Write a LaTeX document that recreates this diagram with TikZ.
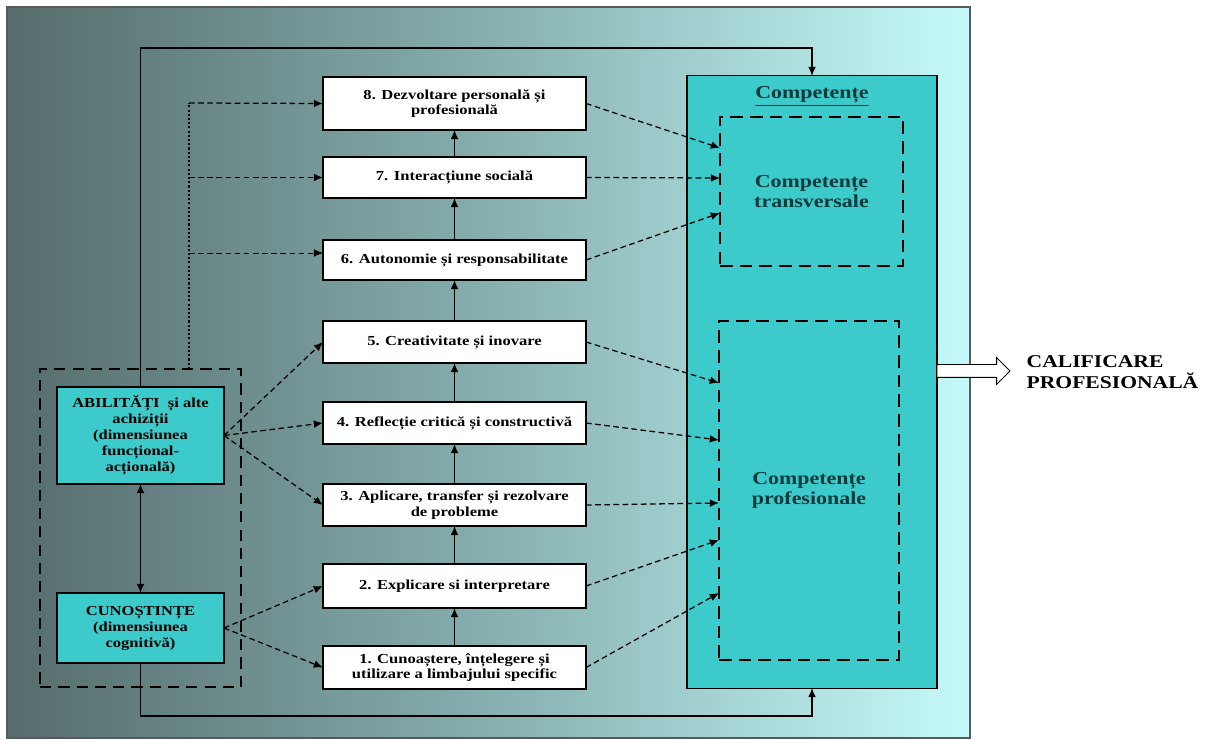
\documentclass[tikz,border=0pt]{standalone}
\usepackage{fontspec}
\setmainfont[FakeStretch=1.2]{Liberation Serif}
\usetikzlibrary{shapes.arrows,arrows.meta}
\definecolor{bgdark}{HTML}{566C6C}
\definecolor{bgmid}{HTML}{86AFAF}
\definecolor{bglight}{HTML}{C6FAFA}
\definecolor{turq}{HTML}{3CCACA}
\definecolor{inktxt}{HTML}{0E3A3C}
\begin{document}
\begin{tikzpicture}[x=0.025cm, y=-0.025cm, line width=0.8pt, >={Latex[length=6.5pt,width=5.5pt]},
    every node/.style={font=\bfseries, align=center, outer sep=0pt},
    stepbox/.style={draw, fill=white, minimum width=6.575cm, minimum height=1.05cm, inner sep=2pt, font=\bfseries\fontsize{9.8}{11}\selectfont},
    dimbox/.style={draw, fill=turq, minimum width=4.175cm, inner sep=2pt, font=\bfseries\fontsize{9.8}{11.4}\selectfont},
    groupbox/.style={draw, line width=1.2pt, dash pattern=on 8pt off 5pt},
    compbox/.style={draw, line width=1.2pt, dash pattern=on 9pt off 5pt, text=inktxt, font=\bfseries\fontsize{13}{14.5}\selectfont},
    dashline/.style={line width=0.9pt, dash pattern=on 4pt off 2.5pt},
    dotline/.style={line width=0.9pt, dash pattern=on 1.5pt off 1.5pt},
    hollow/.style={single arrow, draw, fill=white, line width=0.6pt, inner xsep=0pt, inner ysep=0.15cm, minimum width=0.65cm, single arrow head extend=0.175cm, minimum height=1.825cm}]
    \useasboundingbox (0,0) rectangle (1215,740);
    % background
    \draw[draw=gray!70!black, left color=bgdark, right color=bglight, middle color=bgmid] (7,7) rectangle (970,738);

    % competente
    \node[draw, fill=turq, minimum width=6.25cm, minimum height=15.3cm] (comp) at (812,382) {};
    \node[text=inktxt, font=\bfseries\fontsize{13}{14.5}\selectfont] (comptitle) at (812,96) {\underline{Competențe}};
    \node[compbox, minimum width=4.575cm, minimum height=3.725cm] (trans) at (811.5,191.5) {Competențe\\transversale};
    \node[compbox, minimum width=4.5cm, minimum height=8.475cm] (prof) at (809,490.5) {Competențe\\profesionale};

    % left group
    \node[groupbox, minimum width=5.025cm, minimum height=7.95cm] (grp) at (140.5,528) {};
    \node[dimbox, minimum height=2.425cm] (abil) at (140.5,435.5) {ABILITĂȚI~ și alte\\achiziții\\(dimensiunea\\funcțional-\\acțională)};
    \node[dimbox, minimum height=1.75cm] (cun) at (140.5,628) {CUNOȘTINȚE\\(dimensiunea\\cognitivă)};

    % steps
    \node[stepbox, minimum height=1.325cm] (b8) at (454.5,103.5) {8. Dezvoltare personală și\\profesională};
    \node[stepbox, minimum height=1.025cm] (b7) at (454.5,177.5) {7. Interacțiune socială};
    \node[stepbox, minimum height=1cm] (b6) at (454.5,260) {6. Autonomie și responsabilitate};
    \node[stepbox] (b5) at (454.5,342) {5. Creativitate și inovare};
    \node[stepbox] (b4) at (454.5,423) {4. Reflecție critică și constructivă};
    \node[stepbox] (b3) at (454.5,505) {3. Aplicare, transfer și rezolvare\\de probleme};
    \node[stepbox, minimum height=1.1cm] (b2) at (454.5,586) {2. Explicare si interpretare};
    \node[stepbox, minimum height=1.075cm] (b1) at (454.5,667.5) {1. Cunoaștere, înțelegere și\\utilizare a limbajului specific};

    \node[hollow, anchor=tail] (qarrow) at (comp.east |- 0,371) {};
    \node[anchor=west, align=left, font=\bfseries\fontsize{12.8}{14.5}\selectfont] (calif) at (1022,372) {CALIFICARE\\PROFESIONALĂ};

    % solid links
    \foreach \a/\b in {b1/b2, b2/b3, b3/b4, b4/b5, b5/b6, b6/b7, b7/b8}
        \draw[->] (\a) -- (\b);
    \draw[<->] (abil.south) -- (cun.north);
    \draw[->] (abil.north) -- (abil.north |- 0,48) -- (comp.north |- 0,48) -- (comp.north);
    \draw[->] (cun.south) -- (cun.south |- 0,716) -- (comp.south |- 0,716) -- (comp.south);

    % dotted branch
    \coordinate (dtop) at (189,103);
    \draw[dotline] (grp.north -| dtop) -- (dtop);
    \draw[dashline, ->] (dtop) -- (b8.west);
    \draw[dashline, ->] (dtop |- b7.west) -- (b7.west);
    \draw[dashline, line width=0.5pt, ->] (dtop |- 0,253) -- (b6.west |- 0,253);

    % dimensions to steps
    \foreach \b in {b5, b4, b3}
        \draw[dashline, ->] (abil.east) -- (\b.west);
    \foreach \b in {b2, b1}
        \draw[dashline, ->] (cun.east) -- (\b.west);

    % steps to competente
    \draw[dashline, ->] (b8.east) -- (trans.west |- 0,148);
    \draw[dashline, ->] (b7.east) -- (trans.west |- 0,178);
    \draw[dashline, ->] (b6.east) -- (trans.west |- 0,213);
    \draw[dashline, ->] (b5.east) -- (prof.west |- 0,383);
    \draw[dashline, ->] (b4.east) -- (prof.west |- 0,440);
    \draw[dashline, ->] (b3.east) -- (prof.west |- 0,503);
    \draw[dashline, ->] (b2.east) -- (prof.west |- 0,540);
    \draw[dashline, ->] (b1.east) -- (prof.west |- 0,593);
\end{tikzpicture}
\end{document}
